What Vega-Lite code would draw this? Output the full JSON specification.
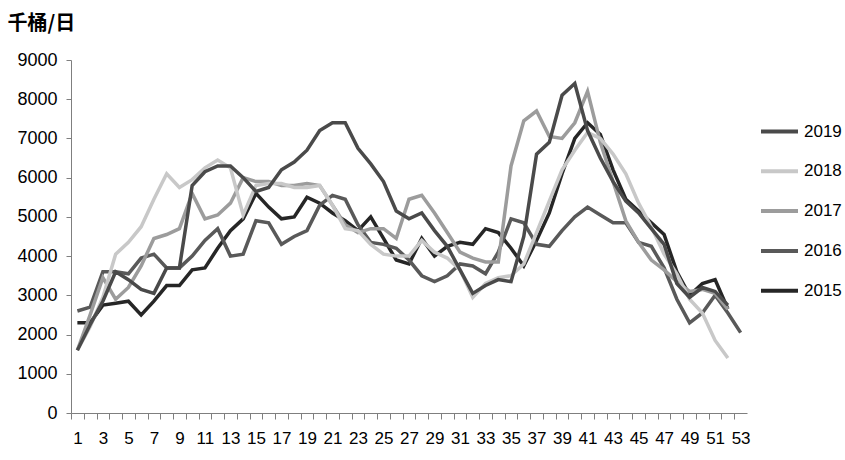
{
  "$schema": "https://vega.github.io/schema/vega-lite/v6.json",
  "width": 676,
  "height": 353,
  "autosize": {"type": "none"},
  "padding": {"left": 71, "top": 60, "right": 98, "bottom": 47},
  "background": "white",
  "config": {"view": {"stroke": null}},
  "data": {
    "values": [
      {"week": 1, "2015": 2300, "2016": 2600, "2017": 1600, "2018": 1600, "2019": 1600},
      {"week": 2, "2015": 2300, "2016": 2700, "2017": 2500, "2018": 2200, "2019": 2250},
      {"week": 3, "2015": 2750, "2016": 3600, "2017": 3450, "2018": 2950, "2019": 2850},
      {"week": 4, "2015": 2800, "2016": 3600, "2017": 2900, "2018": 4050, "2019": 3600},
      {"week": 5, "2015": 2850, "2016": 3550, "2017": 3200, "2018": 4350, "2019": 3400},
      {"week": 6, "2015": 2500, "2016": 3950, "2017": 3750, "2018": 4750, "2019": 3150},
      {"week": 7, "2015": 2850, "2016": 4050, "2017": 4450, "2018": 5450, "2019": 3050},
      {"week": 8, "2015": 3250, "2016": 3700, "2017": 4550, "2018": 6100, "2019": 3700},
      {"week": 9, "2015": 3250, "2016": 3700, "2017": 4700, "2018": 5750, "2019": 3700},
      {"week": 10, "2015": 3650, "2016": 4000, "2017": 5600, "2018": 5950, "2019": 5800},
      {"week": 11, "2015": 3700, "2016": 4400, "2017": 4950, "2018": 6250, "2019": 6150},
      {"week": 12, "2015": 4200, "2016": 4700, "2017": 5050, "2018": 6450, "2019": 6300},
      {"week": 13, "2015": 4650, "2016": 4000, "2017": 5350, "2018": 6250, "2019": 6300},
      {"week": 14, "2015": 4950, "2016": 4050, "2017": 6000, "2018": 5050, "2019": 6000},
      {"week": 15, "2015": 5600, "2016": 4900, "2017": 5900, "2018": 5800, "2019": 5650},
      {"week": 16, "2015": 5250, "2016": 4850, "2017": 5900, "2018": 5850, "2019": 5750},
      {"week": 17, "2015": 4950, "2016": 4300, "2017": 5800, "2018": 5850, "2019": 6200},
      {"week": 18, "2015": 5000, "2016": 4500, "2017": 5800, "2018": 5750, "2019": 6400},
      {"week": 19, "2015": 5500, "2016": 4650, "2017": 5850, "2018": 5750, "2019": 6700},
      {"week": 20, "2015": 5350, "2016": 5300, "2017": 5800, "2018": 5800, "2019": 7200},
      {"week": 21, "2015": 5100, "2016": 5550, "2017": 5300, "2018": 5300, "2019": 7400},
      {"week": 22, "2015": 4900, "2016": 5450, "2017": 4800, "2018": 4700, "2019": 7400},
      {"week": 23, "2015": 4650, "2016": 4800, "2017": 4600, "2018": 4650, "2019": 6750},
      {"week": 24, "2015": 5000, "2016": 4350, "2017": 4700, "2018": 4300, "2019": 6350},
      {"week": 25, "2015": 4450, "2016": 4300, "2017": 4700, "2018": 4050, "2019": 5900},
      {"week": 26, "2015": 3900, "2016": 4200, "2017": 4450, "2018": 4000, "2019": 5150},
      {"week": 27, "2015": 3800, "2016": 3900, "2017": 5450, "2018": 4000, "2019": 4950},
      {"week": 28, "2015": 4450, "2016": 3500, "2017": 5550, "2018": 4400, "2019": 5100},
      {"week": 29, "2015": 4000, "2016": 3350, "2017": 5100, "2018": 4100, "2019": 4650},
      {"week": 30, "2015": 4250, "2016": 3500, "2017": 4600, "2018": 3950, "2019": 4250},
      {"week": 31, "2015": 4350, "2016": 3800, "2017": 4100, "2018": 3650, "2019": 3650},
      {"week": 32, "2015": 4300, "2016": 3750, "2017": 3950, "2018": 2950, "2019": 3050},
      {"week": 33, "2015": 4700, "2016": 3550, "2017": 3850, "2018": 3300, "2019": 3250},
      {"week": 34, "2015": 4600, "2016": 4100, "2017": 3850, "2018": 3450, "2019": 3400},
      {"week": 35, "2015": 4200, "2016": 4950, "2017": 6300, "2018": 3500, "2019": 3350},
      {"week": 36, "2015": 3750, "2016": 4850, "2017": 7450, "2018": 3800, "2019": 4500},
      {"week": 37, "2015": 4400, "2016": 4300, "2017": 7700, "2018": 4600, "2019": 6600},
      {"week": 38, "2015": 5100, "2016": 4250, "2017": 7050, "2018": 5400, "2019": 6900},
      {"week": 39, "2015": 6100, "2016": 4650, "2017": 7000, "2018": 6200, "2019": 8100},
      {"week": 40, "2015": 7000, "2016": 5000, "2017": 7400, "2018": 6700, "2019": 8400},
      {"week": 41, "2015": 7400, "2016": 5250, "2017": 8200, "2018": 7150, "2019": 7200},
      {"week": 42, "2015": 7100, "2016": 5050, "2017": 6900, "2018": 7000, "2019": 6500},
      {"week": 43, "2015": 6200, "2016": 4850, "2017": 5900, "2018": 6600, "2019": 5900},
      {"week": 44, "2015": 5450, "2016": 4850, "2017": 4900, "2018": 6100, "2019": 5400},
      {"week": 45, "2015": 5150, "2016": 4350, "2017": 4350, "2018": 5350, "2019": 5100},
      {"week": 46, "2015": 4850, "2016": 4250, "2017": 3900, "2018": 4750, "2019": 4700},
      {"week": 47, "2015": 4550, "2016": 3700, "2017": 3650, "2018": 4050, "2019": 4300},
      {"week": 48, "2015": 3600, "2016": 2900, "2017": 3350, "2018": 3550, "2019": 3300},
      {"week": 49, "2015": 3000, "2016": 2300, "2017": 3100, "2018": 2900, "2019": 2950},
      {"week": 50, "2015": 3300, "2016": 2550, "2017": 3150, "2018": 2550, "2019": 3200},
      {"week": 51, "2015": 3400, "2016": 3000, "2017": 3050, "2018": 1850, "2019": 3100},
      {"week": 52, "2015": 2650, "2016": 2550, "2017": 2650, "2018": 1400, "2019": 2750},
      {"week": 53, "2015": null, "2016": 2050, "2017": null, "2018": null, "2019": null}
    ]
  },
  "transform": [
    {"fold": ["2015", "2016", "2017", "2018", "2019"], "as": ["year", "v"]},
    {"filter": "datum.v != null"}
  ],
  "mark": {"type": "line", "strokeWidth": 3.5, "strokeCap": "butt"},
  "encoding": {
    "x": {
      "field": "week",
      "type": "quantitative",
      "scale": {"domain": [0.5, 53.5], "nice": false, "zero": false},
      "axis": {
        "values": [1,2,3,4,5,6,7,8,9,10,11,12,13,14,15,16,17,18,19,20,21,22,23,24,25,26,27,28,29,30,31,32,33,34,35,36,37,38,39,40,41,42,43,44,45,46,47,48,49,50,51,52,53,54],
        "labelExpr": "datum.value % 2 == 1 && datum.value <= 53 ? datum.label : ''",
        "tickOffset": -6.375,
        "labelOffset": 6.375,
        "grid": false,
        "title": null,
        "tickSize": 6,
        "tickColor": "#7f7f7f",
        "domainColor": "#7f7f7f",
        "labelFont": "Liberation Sans",
        "labelFontSize": 17,
        "labelColor": "#000000",
        "labelPadding": 11,
        "labelFlush": false,
        "labelOverlap": false,
        "labelBound": false
      }
    },
    "y": {
      "field": "v",
      "type": "quantitative",
      "scale": {"domain": [0, 9000], "nice": false},
      "axis": {
        "values": [0, 1000, 2000, 3000, 4000, 5000, 6000, 7000, 8000, 9000],
        "format": "d",
        "grid": false,
        "tickSize": 5,
        "tickColor": "#7f7f7f",
        "domainColor": "#7f7f7f",
        "labelFont": "Liberation Sans",
        "labelFontSize": 18,
        "labelColor": "#000000",
        "labelPadding": 9,
        "labelFlush": false,
        "labelOverlap": false,
        "title": "千桶/日",
        "titleAngle": 0,
        "titleAlign": "left",
        "titleBaseline": "middle",
        "titleX": -64,
        "titleY": -37,
        "titleFont": "Noto Sans CJK SC",
        "titleFontSize": 20,
        "titleFontWeight": "bold",
        "titleColor": "#000000"
      }
    },
    "color": {
      "field": "year",
      "type": "nominal",
      "scale": {
        "domain": ["2019", "2018", "2017", "2016", "2015"],
        "range": ["#4a4a4a", "#c8c8c8", "#9c9c9c", "#595959", "#262626"]
      },
      "legend": {
        "orient": "none",
        "legendX": 688,
        "legendY": 51,
        "title": null,
        "padding": 0,
        "symbolType": "stroke",
        "symbolSize": 1369,
        "symbolStrokeWidth": 4,
        "labelFont": "Liberation Sans",
        "labelFontSize": 17,
        "labelColor": "#000000",
        "labelOffset": 4,
        "rowPadding": 10.8
      }
    }
  }
}
